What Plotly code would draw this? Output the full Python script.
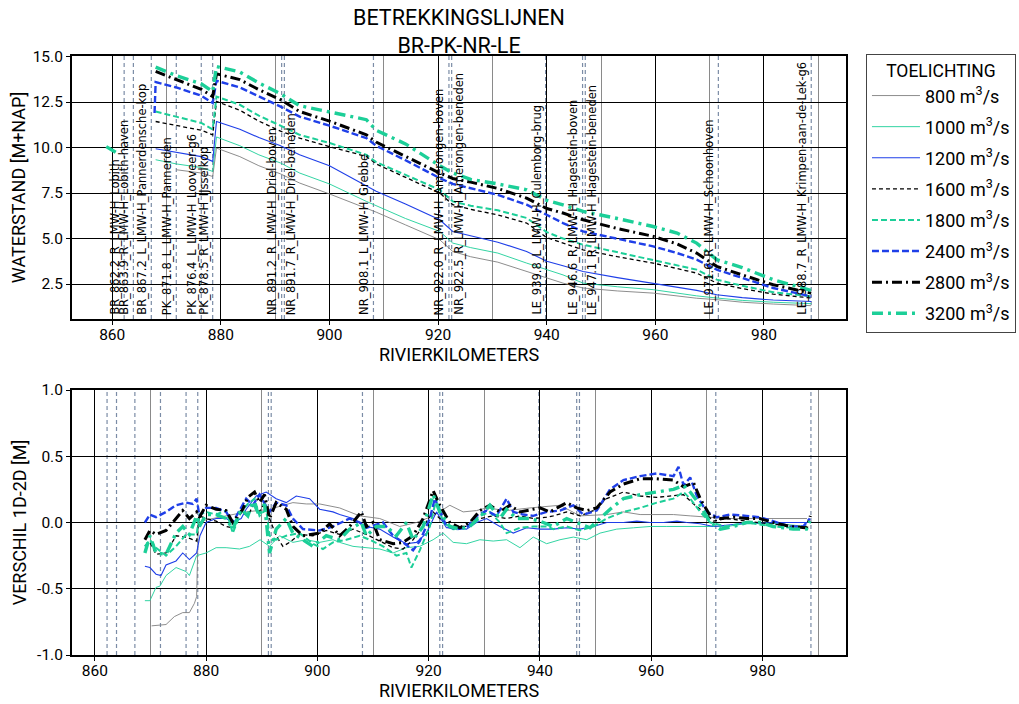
import plotly.graph_objects as go

# ---------------- data ----------------
series_names = ["800 m<sup>3</sup>/s", "1000 m<sup>3</sup>/s", "1200 m<sup>3</sup>/s", "1600 m<sup>3</sup>/s",
                "1800 m<sup>3</sup>/s", "2400 m<sup>3</sup>/s", "2800 m<sup>3</sup>/s", "3200 m<sup>3</sup>/s"]

stations_km = [862.2, 863.9, 867.2, 871.8, 876.4, 878.5, 891.2, 891.7, 908.1, 922.0, 922.5,
               939.8, 946.6, 947.1, 971.6, 988.7]
stations_name = ["BR_862.2_R_LMW-H_Lobith", "BR_863.9_R_LMW-H_Lobith-haven",
                 "BR_867.2_L_LMW-H_Pannerdensche-kop", "PK_871.8_L_LMW-H_Pannerden",
                 "PK_876.4_L_LMW-H_Looveer-g6", "PK_878.5_R_LMW-H_IJsselkop",
                 "NR_891.2_R_LMW-H_Driel-boven", "NR_891.7_R_LMW-H_Driel-beneden",
                 "NR_908.1_L_LMW-H_Grebbe", "NR_922.0_R_LMW-H_Amerongen-boven",
                 "NR_922.5_R_LMW-H_Amerongen-beneden", "LE_939.8_L_LMW-H_Culemborg-brug",
                 "LE_946.6_R_LMW-H_Hagestein-boven", "LE_947.1_R_LMW-H_Hagestein-beneden",
                 "LE_971.6_R_LMW-H_Schoonhoven", "LE_988.7_R_LMW-H_Krimpen-aan-de-Lek-g6"]

# top panel: water levels (m + NAP)
km_top = [867.8, 868.0, 871.8, 876.4, 878.5, 879.2, 883.5, 887.0, 891.0, 894.5, 900.0, 906.8, 908.6,
          914.0, 920.3, 922.7, 926.0, 931.0, 936.3, 940.0, 943.0, 946.7, 953.0, 959.6, 964.0, 967.6,
          971.3, 976.0, 981.7, 988.7]
wl_800 = [None, None, 8.78, 8.6, 8.41, 9.97, 9.5, 9.0, 8.55, 8.05, 7.45, 6.68, 6.45, 5.75, 4.93, 4.29,
          4.0, 3.7, 3.19, 2.85, 2.55, 2.28, 2.12, 2.0, 1.85, 1.72, 1.64, 1.5, 1.4, 1.31]
wl_1000 = [None, 9.33, 9.1, 8.9, 8.69, 10.58, 10.1, 9.6, 9.15, 8.6, 8.0, 7.04, 6.8, 6.1, 5.39, 4.75,
           4.5, 4.2, 3.65, 3.3, 3.0, 2.55, 2.35, 2.19, 2.0, 1.85, 1.73, 1.6, 1.5, 1.42]
wl_1200 = [None, 9.93, 9.75, 9.5, 9.24, 11.43, 11.0, 10.55, 10.1, 9.6, 9.0, 7.86, 7.6, 6.9, 6.03, 5.39,
           5.15, 4.8, 4.29, 3.75, 3.5, 3.19, 2.85, 2.55, 2.35, 2.15, 1.91, 1.75, 1.62, 1.54]
wl_1600 = [None, 11.43, 11.2, 10.95, 10.7, 12.53, 12.05, 11.45, 10.9, 10.52, 10.05, 9.51, 9.1, 8.35,
           7.5, 6.86, 6.6, 6.3, 5.85, 5.05, 4.75, 4.38, 4.0, 3.65, 3.35, 3.1, 2.55, 2.25, 1.95, 1.73]
wl_1800 = [None, 11.98, 11.7, 11.35, 11.0, 12.8, 12.35, 11.75, 11.2, 10.7, 10.25, 9.6, 9.2, 8.5, 7.68,
           7.04, 6.8, 6.55, 6.13, 5.35, 5.0, 4.66, 4.25, 3.84, 3.55, 3.29, 2.74, 2.4, 2.05, 1.82]
wl_2400 = [11.9, 13.6, 13.3, 12.85, 12.45, 13.67, 13.3, 12.8, 12.25, 11.7, 11.2, 10.52, 10.1, 9.3, 8.32,
           8.0, 7.75, 7.4, 6.86, 6.3, 5.85, 5.39, 5.0, 4.57, 4.2, 3.84, 3.29, 2.85, 2.28, 1.82]
wl_2800 = [None, 14.18, 13.75, 13.2, 12.8, 14.05, 13.73, 13.18, 12.63, 11.98, 11.45, 10.7, 10.3, 9.5,
           8.6, 8.3, 8.1, 7.75, 7.22, 6.65, 6.4, 6.03, 5.55, 5.12, 4.7, 4.2, 3.47, 3.0, 2.46, 2.0]
wl_3200 = [None, 14.42, 13.95, 13.5, 13.08, 14.45, 14.15, 13.55, 12.95, 12.3, 11.95, 11.53, 10.95, 10.2,
           9.0, 8.6, 8.25, 8.0, 7.68, 7.1, 6.85, 6.49, 6.1, 5.66, 5.3, 4.75, 3.84, 3.4, 2.74, 2.15]
km_lobith = [858.9, 860.9]
wl_lobith_3200 = [10.05, 9.7]

# bottom panel: difference 1D-2D (m)
km_d800 = [870.2, 872.8, 874.3, 875.8, 877.0, 877.9, 878.3, 878.6, 880.0, 883.6, 887.2, 891.4, 895.6,
           898.0, 900.4, 904.0, 907.6, 911.2, 914.8, 917.8, 920.8, 923.8, 926.2, 928.6, 930.4, 934.0,
           938.2, 943.6, 946.0, 947.2, 952.0, 955.0, 958.0, 961.0, 964.0, 967.0, 970.0, 973.6, 977.1,
           981.9, 988.0]
d800 = [-0.78, -0.77, -0.71, -0.68, -0.68, -0.61, -0.56, 0.0, 0.02, 0.05, 0.08, 0.1, 0.15, 0.14, 0.14,
        0.11, 0.05, 0.03, -0.03, 0.0, 0.05, 0.13, 0.08, 0.09, 0.11, 0.09, 0.11, 0.13, 0.08, 0.05, 0.06,
        0.08, 0.06, 0.06, 0.06, 0.05, 0.04, 0.03, 0.03, 0.03, 0.03]

km_d1000 = [869.0, 869.9, 871.0, 871.7, 872.8, 874.6, 876.4, 877.0, 878.3, 880.0, 881.8, 883.6, 886.0,
            887.8, 889.7, 891.4, 893.2, 895.6, 898.0, 900.4, 902.8, 904.0, 906.4, 908.8, 911.2, 913.6,
            916.0, 918.4, 920.8, 922.6, 924.4, 926.8, 929.2, 931.6, 934.0, 936.4, 938.8, 941.2, 943.6,
            946.0, 948.4, 950.8, 953.8, 956.8, 959.8, 962.8, 965.2, 967.6, 970.0, 973.6, 978.3, 983.1,
            987.9]
d1000 = [-0.59, -0.59, -0.49, -0.48, -0.40, -0.34, -0.37, -0.40, -0.25, -0.23, -0.19, -0.19, -0.2,
         -0.18, -0.13, -0.18, -0.10, -0.15, -0.13, -0.15, -0.13, -0.15, -0.18, -0.19, -0.2, -0.23,
         -0.19, -0.18, -0.13, -0.08, -0.15, -0.16, -0.13, -0.14, -0.13, -0.19, -0.11, -0.16, -0.13,
         -0.11, -0.13, -0.08, -0.05, -0.04, -0.03, -0.03, -0.03, -0.03, -0.03, -0.03, 0.0, -0.01, -0.03]

km_d1200 = [869.0, 869.9, 871.0, 871.9, 872.8, 874.6, 875.8, 877.0, 878.3, 878.9, 880.0, 881.8, 883.6,
            884.8, 886.3, 887.2, 889.0, 890.8, 892.6, 894.4, 896.2, 898.6, 900.4, 902.8, 904.0, 906.4,
            908.8, 911.2, 913.6, 916.0, 917.8, 919.6, 921.4, 923.2, 925.0, 926.8, 928.6, 930.4, 932.8,
            935.2, 937.6, 940.0, 942.4, 944.8, 947.2, 949.6, 952.0, 955.0, 957.4, 959.8, 962.2, 964.6,
            966.4, 968.8, 971.2, 976.0, 981.9, 988.5]
d1200 = [-0.33, -0.34, -0.39, -0.4, -0.32, -0.29, -0.23, -0.28, -0.23, -0.10, 0.0, 0.03, 0.03, 0.0,
         0.03, 0.1, 0.2, 0.23, 0.18, 0.15, 0.2, 0.18, 0.1, 0.08, 0.06, 0.03, -0.03, -0.05, -0.11, -0.16,
         -0.15, -0.08, 0.08, -0.04, -0.04, -0.05, 0.0, 0.03, -0.03, -0.08, -0.04, -0.05, -0.05, -0.04,
         -0.05, -0.03, 0.0, 0.0, 0.01, 0.0, 0.0, 0.01, 0.0, -0.01, -0.03, -0.01, 0.0, 0.0]

km_d1600 = [869.0, 869.9, 871.0, 872.8, 874.6, 876.4, 878.3, 878.8, 880.0, 881.8, 883.6, 884.8, 886.3,
            887.5, 888.7, 889.6, 890.5, 891.4, 892.6, 893.8, 895.0, 896.8, 899.2, 901.6, 904.0, 906.4,
            908.8, 911.2, 913.6, 915.4, 917.2, 919.0, 920.8, 922.0, 923.8, 926.8, 929.2, 931.6, 934.0,
            936.4, 938.8, 941.2, 942.4, 944.8, 947.2, 949.6, 952.0, 955.0, 958.0, 961.0, 964.0, 965.8,
            967.6, 969.4, 971.2, 973.6, 977.1, 981.9, 985.5, 987.9]
d1600 = [-0.18, -0.15, -0.24, -0.23, -0.10, -0.11, -0.14, 0.05, 0.03, 0.01, -0.03, -0.04, 0.08, 0.05,
         0.15, 0.08, 0.15, 0.03, -0.10, -0.18, -0.15, -0.09, -0.10, -0.06, -0.09, -0.05, -0.09, -0.14,
         -0.19, -0.2, -0.13, -0.03, 0.08, 0.03, -0.03, -0.03, 0.03, 0.05, 0.03, 0.05, 0.03, 0.04, 0.05,
         0.08, 0.05, 0.09, 0.18, 0.23, 0.2, 0.19, 0.2, 0.21, 0.14, 0.08, 0.01, 0.03, 0.01, -0.01, -0.03,
         -0.03]

km_d1800 = [869.0, 869.9, 871.0, 872.8, 874.6, 876.4, 878.3, 878.8, 880.0, 881.8, 883.6, 884.8, 886.3,
            887.5, 888.7, 889.6, 890.8, 891.4, 892.6, 894.4, 896.8, 899.2, 901.0, 902.8, 905.2, 907.6,
            909.4, 911.8, 914.2, 916.0, 916.9, 918.4, 920.2, 921.4, 922.6, 924.4, 926.8, 929.2, 931.0,
            932.8, 934.0, 936.4, 938.8, 941.2, 942.4, 944.8, 947.2, 949.6, 952.0, 955.0, 958.0, 961.0,
            964.0, 965.8, 967.0, 968.8, 970.6, 973.6, 977.1, 981.9, 985.5, 987.9]
d1800 = [-0.18, -0.13, -0.19, -0.25, -0.18, -0.09, -0.09, 0.06, 0.08, 0.06, 0.09, -0.08, 0.08, 0.14,
         0.18, 0.05, 0.10, -0.10, -0.13, -0.10, -0.08, -0.16, -0.2, -0.15, -0.13, -0.1, -0.13, -0.18,
         -0.25, -0.23, -0.34, -0.21, -0.03, 0.18, 0.0, -0.05, -0.04, 0.05, 0.08, 0.0, -0.08, -0.04,
         -0.03, -0.03, -0.05, -0.03, -0.06, -0.03, 0.03, 0.08, 0.11, 0.15, 0.18, 0.23, 0.18, 0.08, 0.0,
         -0.03, 0.0, -0.03, -0.04, -0.03]

km_d2400 = [869.0, 869.9, 871.0, 872.8, 874.6, 876.4, 877.6, 878.3, 878.8, 880.0, 881.8, 883.6, 884.8,
            886.0, 887.2, 888.4, 889.6, 891.4, 892.6, 894.4, 895.6, 897.4, 900.4, 902.8, 905.8, 907.6,
            908.8, 911.8, 913.6, 915.4, 917.2, 918.4, 920.2, 921.1, 922.0, 923.2, 925.0, 926.8, 928.6,
            930.4, 932.2, 934.0, 935.2, 937.0, 938.8, 941.2, 943.6, 946.0, 947.8, 950.2, 952.6, 955.0,
            958.0, 961.0, 964.0, 964.9, 965.8, 967.0, 968.2, 970.0, 971.8, 974.2, 977.1, 979.5, 981.9,
            984.9, 987.3, 988.5]
d2400 = [0.0, 0.06, 0.04, 0.08, 0.13, 0.15, 0.14, 0.18, 0.05, 0.11, 0.11, 0.08, 0.0, 0.09, 0.18, 0.13,
         0.21, 0.08, 0.15, 0.13, 0.03, -0.05, -0.06, -0.03, 0.03, 0.0, -0.04, 0.0, -0.1, -0.15, -0.21,
         -0.14, 0.03, 0.18, 0.09, -0.03, -0.05, -0.04, 0.05, 0.09, 0.05, 0.18, 0.08, 0.06, 0.05, 0.08,
         0.09, 0.13, 0.06, 0.09, 0.25, 0.32, 0.35, 0.37, 0.35, 0.42, 0.28, 0.34, 0.2, 0.08, 0.04, 0.06,
         0.05, 0.04, 0.01, -0.03, -0.03, 0.03]

km_d2800 = [869.0, 869.9, 871.0, 872.8, 874.6, 875.8, 877.0, 878.3, 878.8, 880.0, 881.8, 883.6, 884.8,
            886.6, 887.5, 888.7, 889.6, 890.5, 891.4, 892.6, 894.4, 895.6, 897.4, 898.6, 900.4, 902.2,
            904.0, 905.8, 907.9, 908.8, 910.0, 911.2, 913.6, 915.4, 917.2, 919.0, 920.8, 922.0, 923.8,
            925.6, 927.4, 929.2, 931.0, 932.8, 934.6, 936.4, 938.8, 940.0, 941.8, 944.8, 946.6, 948.4,
            950.2, 952.6, 955.0, 958.0, 961.0, 964.0, 965.8, 967.6, 968.8, 970.6, 972.4, 974.8, 977.1,
            979.5, 981.9, 984.9, 987.9, 988.6]
d2800 = [-0.13, -0.06, -0.09, -0.06, 0.03, 0.09, 0.03, 0.08, 0.04, 0.13, 0.10, 0.09, 0.0, 0.10, 0.19,
         0.23, 0.15, 0.21, 0.03, 0.15, 0.10, -0.03, -0.1, -0.09, -0.08, -0.01, -0.1, -0.03, 0.08, -0.03,
         0.0, -0.13, -0.16, -0.15, -0.1, 0.03, 0.24, 0.13, 0.0, -0.04, 0.0, 0.09, 0.13, 0.08, 0.13, 0.08,
         0.1, 0.11, 0.08, 0.15, 0.11, 0.09, 0.11, 0.23, 0.29, 0.33, 0.33, 0.32, 0.27, 0.3, 0.18, 0.05,
         0.03, 0.04, 0.03, 0.03, 0.0, -0.03, -0.04, 0.05]

km_d3200 = [869.0, 869.9, 871.0, 872.8, 874.6, 875.8, 877.0, 878.3, 878.8, 880.0, 881.8, 883.6, 884.8,
            886.3, 887.5, 888.4, 889.6, 890.5, 891.4, 892.6, 894.4, 895.6, 897.4, 899.2, 901.6, 904.0,
            905.8, 907.9, 908.8, 910.6, 912.4, 914.2, 916.0, 917.2, 919.0, 920.8, 922.0, 923.8, 925.6,
            927.4, 929.2, 931.0, 932.8, 934.0, 935.8, 938.2, 940.0, 942.4, 944.8, 947.2, 949.0, 950.8,
            952.6, 955.0, 958.0, 961.0, 964.0, 965.8, 967.0, 968.8, 970.6, 972.4, 974.8, 977.1, 979.5,
            981.9, 985.5, 987.9, 988.5]
d3200 = [-0.23, -0.1, -0.23, -0.24, -0.08, -0.03, -0.09, 0.05, -0.03, 0.06, 0.06, 0.03, -0.05, 0.10,
         0.05, 0.16, 0.05, 0.14, -0.23, -0.05, 0.03, -0.08, -0.13, -0.18, -0.1, -0.13, -0.05, 0.0, -0.1,
         -0.03, -0.03, -0.1, 0.0, -0.13, -0.03, 0.21, 0.08, -0.03, -0.05, -0.03, 0.04, 0.13, 0.03, 0.1,
         0.03, 0.03, 0.01, -0.03, 0.03, -0.01, -0.04, 0.03, 0.1, 0.18, 0.21, 0.23, 0.25, 0.28, 0.23,
         0.13, 0.0, -0.05, -0.03, 0.0, 0.0, -0.03, -0.05, -0.05, 0.01]

# ---------------- styles ----------------
GRAY, GREEN, BLUE, BLACK = "#808080", "#1ccf98", "#1f3fe8", "#000000"
colors = [GRAY, GREEN, BLUE, BLACK, GREEN, BLUE, BLACK, GREEN]
widths = [0.9, 0.9, 1.1, 1.3, 2.0, 2.4, 3.0, 3.4]
dashes = ["solid", "solid", "solid", "4px,3px", "6px,3px", "7px,3px", "10px,4px,2px,4px", "11px,5px,3px,5px"]

top_vals = [wl_800, wl_1000, wl_1200, wl_1600, wl_1800, wl_2400, wl_2800, wl_3200]
bot_km = [km_d800, km_d1000, km_d1200, km_d1600, km_d1800, km_d2400, km_d2800, km_d3200]
bot_vals = [d800, d1000, d1200, d1600, d1800, d2400, d2800, d3200]

FONT = "Roboto, Liberation Sans, sans-serif"
LFONT = "DejaVu Sans, sans-serif"
fig = go.Figure()

for i, name in enumerate(series_names):
    xs = list(km_top)
    ys = list(top_vals[i])
    if i == 7:
        xs = km_lobith + [None] + xs
        ys = wl_lobith_3200 + [None] + ys
    line = dict(color=colors[i], width=widths[i], dash=dashes[i])
    fig.add_trace(go.Scatter(x=xs, y=ys, mode="lines", name=name, line=line,
                             legendgroup=f"g{i}", xaxis="x", yaxis="y"))
    fig.add_trace(go.Scatter(x=bot_km[i], y=bot_vals[i], mode="lines", name=name, line=line,
                             legendgroup=f"g{i}", showlegend=False, xaxis="x2", yaxis="y2"))

# station lines and labels
SLC = "#7b8ca6"
prev_km = None
for km, nm in zip(stations_km, stations_name):
    for xr, yr in (("x", "y domain"), ("x2", "y2 domain")):
        fig.add_shape(type="line", xref=xr, yref=yr, x0=km, x1=km, y0=0, y1=1,
                      line=dict(color=SLC, width=1.2, dash="4px,3px"), layer="below")
    close = prev_km is not None and (km - prev_km) < 1.0
    fig.add_annotation(x=km, y=0, xref="x", yref="y domain", text=nm, textangle=-90,
                       showarrow=False, xanchor="left" if close else "right", yanchor="bottom",
                       xshift=-2 if close else 0, yshift=2,
                       font=dict(family=LFONT, size=11.5, color="black"))
    prev_km = km

axis_common = dict(showline=True, linewidth=2, linecolor="black", mirror=True, automargin=False,
                   ticks="outside", ticklen=4, tickcolor="black", tickwidth=1,
                   tickfont=dict(family=FONT, size=15.5, color="black"),
                   showgrid=True, gridcolor="black", gridwidth=1, zeroline=False)
xticks = [860, 880, 900, 920, 940, 960, 980]
minor_x = dict(tickmode="linear", tick0=850, dtick=10, showgrid=True, gridcolor="#8a8a8a",
               gridwidth=0.8, ticks="")
TFONT = dict(family=FONT, size=18, color="black")

fig.update_layout(
    width=1019, height=704,
    paper_bgcolor="white", plot_bgcolor="white",
    margin=dict(l=72, r=173, t=56, b=49, autoexpand=False),
    font=dict(family=FONT, color="black"),
    title=dict(text="BETREKKINGSLIJNEN<br>BR-PK-NR-LE", x=0.5, xref="paper", xanchor="center",
               y=1 - 25 / 704, yref="container", yanchor="middle",
               font=dict(family=FONT, size=21.5, color="black")),
    xaxis=dict(domain=[0, 1], anchor="y", range=[852.6, 995.1], tickvals=xticks,
               minor=minor_x, ticklabelstandoff=-4,
               title=dict(text="RIVIERKILOMETERS", font=TFONT, standoff=2),
               **axis_common),
    yaxis=dict(domain=[0.561, 1.0], anchor="x", range=[0.58, 15.03],
               tickvals=[2.5, 5.0, 7.5, 10.0, 12.5, 15.0],
               ticktext=["2.5", "5.0", "7.5", "10.0", "12.5", "15.0"],
               title=dict(text="WATERSTAND [M+NAP]", font=TFONT, standoff=2),
               **axis_common),
    xaxis2=dict(domain=[0, 1], anchor="y2", range=[855.9, 995.0], tickvals=xticks,
                minor=minor_x, ticklabelstandoff=-4,
                title=dict(text="RIVIERKILOMETERS", font=TFONT, standoff=4),
                **axis_common),
    yaxis2=dict(domain=[0.0, 0.4424], anchor="x2", range=[-1.0, 1.0],
                tickvals=[-1.0, -0.5, 0.0, 0.5, 1.0],
                ticktext=["-1.0", "-0.5", "0.0", "0.5", "1.0"],
                title=dict(text="VERSCHIL 1D-2D [M]", font=TFONT, standoff=6),
                **axis_common),
    legend=dict(x=1.0258, y=1.004, xanchor="left", yanchor="top", xref="paper", yref="paper",
                bordercolor="#444444", borderwidth=1, bgcolor="white",
                font=dict(family=FONT, size=18, color="black"),
                title=dict(text="TOELICHTING", side="top center",
                           font=dict(family=FONT, size=17.5, color="black")),
                itemwidth=48, tracegroupgap=4.7, traceorder="grouped"),
    showlegend=True,
)

fig.write_html("out.html", config={"displayModeBar": False},
               post_script="document.body.style.margin='0';")
